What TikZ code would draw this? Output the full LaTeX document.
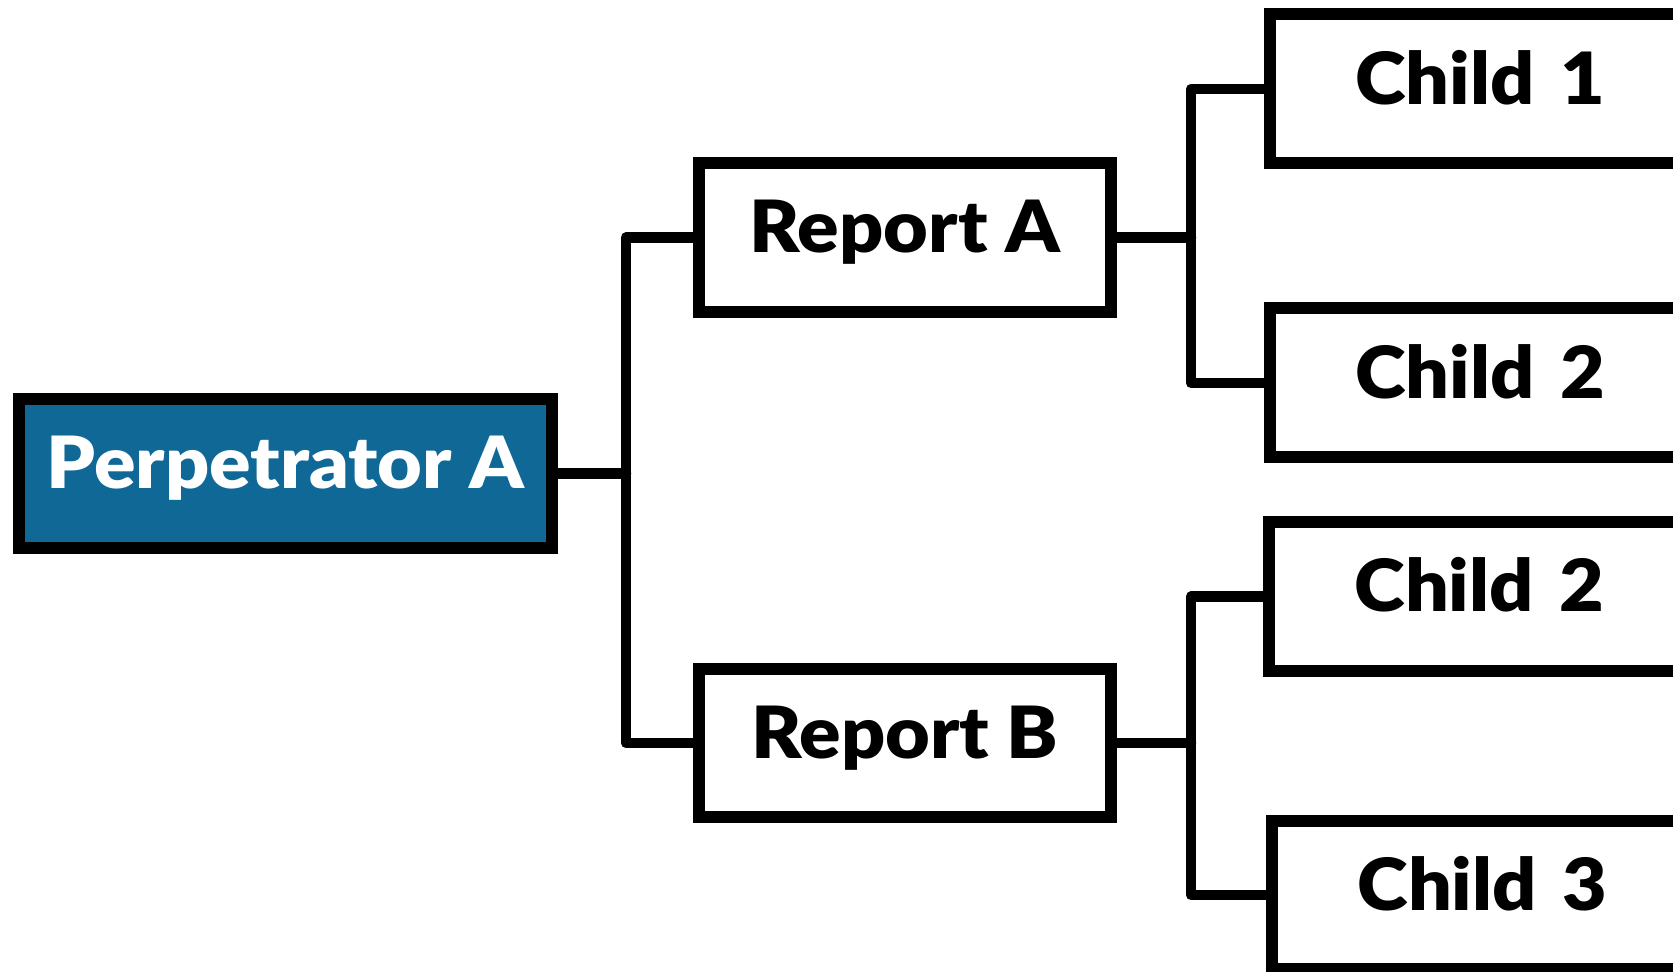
\documentclass[tikz,border=0pt]{standalone}
\usepackage{graphicx}
\usepackage{fontspec}
\setmainfont{Lato}[BoldFont={Lato Black}]
\definecolor{perpblue}{RGB}{16,104,150}
\newcommand\widetxt[1]{\scalebox{1.07}[1]{#1}}
\begin{document}
\begin{tikzpicture}[x=0.02cm,y=-0.02cm,
  conn/.style={line width=0.21cm, line join=round, line cap=round},
  txt/.style={font=\fontsize{41}{44}\selectfont\bfseries, text height=1.02cm, text depth=0.4cm},
  boxbase/.style={txt, draw=black, line width=0.24cm, outer sep=0pt, inner sep=0pt},
  perpbox/.style={boxbase, fill=perpblue, text=white,
    minimum width=10.66cm, minimum height=2.98cm},
  repbox/.style={boxbase, fill=white, minimum width=8.24cm},
  childbox/.style={boxbase, fill=white, anchor=north west,
    minimum height=2.98cm, text width=10cm, align=left, inner xsep=1.71cm}
]
\useasboundingbox (0,0) rectangle (1673,972);

\node[perpbox] (perp) at (285.5,473.5) {\widetxt{Perpetrator A}};
\node[repbox, minimum height=3.0cm] (ra) at (905,237.5) {\widetxt{Report A}};
\node[repbox, minimum height=2.98cm] (rb) at (905,743) {\widetxt{Report B}};

\node[childbox] (c1) at (1269.5,14.5) {\widetxt{Child 1}};
\node[childbox] (c2) at (1269.5,308.5) {\widetxt{Child 2}};
\node[childbox] (c2b) at (1269,522) {\widetxt{Child 2}};
\node[childbox] (c3) at (1272,820.5) {\widetxt{Child 3}};

\coordinate (t0) at (626,0);
\coordinate (t1) at (1191,0);

\draw[conn] (perp.east) -- (perp.east -| t0);
\draw[conn] (ra.west) -- (ra.west -| t0) -- (rb.west -| t0) -- (rb.west);

\draw[conn] (ra.east) -- (ra.east -| t1);
\draw[conn] (c1.west) -- (c1.west -| t1) -- (c2.west -| t1) -- (c2.west);

\draw[conn] (rb.east) -- (rb.east -| t1);
\draw[conn] (c2b.west) -- (c2b.west -| t1) -- (c3.west -| t1) -- (c3.west);
\end{tikzpicture}
\end{document}
